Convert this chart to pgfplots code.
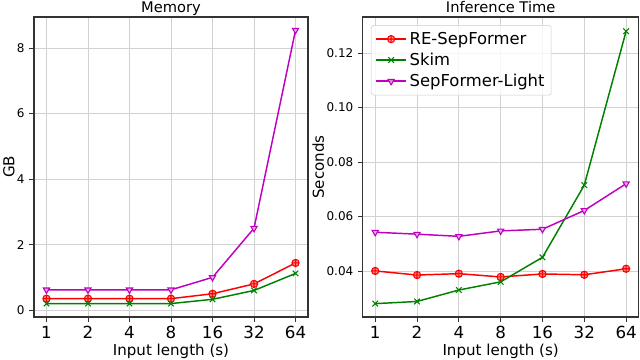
\documentclass[border=0pt]{standalone}
\usepackage{fontspec}
\setmainfont{DejaVu Sans}
\usepackage{pgfplots}
\pgfplotsset{compat=1.18}

\definecolor{mplred}{HTML}{FF0000}
\definecolor{mplgreen}{HTML}{008000}
\definecolor{mplmag}{HTML}{BF00BF}

\pgfplotsset{
  common/.style={
    scale only axis, height=225pt,
    xmin=-0.3, xmax=6.3,
    xtick={0,1,2,3,4,5,6},
    xticklabels={1,2,4,8,16,32,64},
    xticklabel style={font=\fontsize{12.5}{12.5}\selectfont},
    yticklabel style={font=\fontsize{9}{9}\selectfont},
    /pgf/number format/assume math mode=true,
    tick align=outside, tick pos=left,
    major tick length=3.5pt,
    tick style={line width=0.6pt, black!80},
    axis line style={line width=0.8pt, black!80},
    grid=major, major grid style={line width=0.6pt, gray!35},
    xlabel={Input length (s)},
    label style={font=\fontsize{11.3}{12}\selectfont},
    xlabel style={yshift=3pt},
    every axis title/.style={font=\fontsize{11}{11}\selectfont, at={(0.5,1)}, anchor=base, yshift=3pt},
    every axis plot/.append style={line width=1.1pt, mark size=2.7pt},
  },
  re/.style={color=mplred, mark=oplus*, mark options={fill=red!45, line width=0.8pt}},
  sk/.style={color=mplgreen, mark=x, mark options={line width=0.8pt, scale=1.1}},
  li/.style={color=mplmag, mark=triangle*, mark options={rotate=180, fill=mplmag!35, line width=0.8pt}},
}

\begin{document}
\begin{tikzpicture}
\path[use as bounding box] (0,0) rectangle (480pt,270pt);

\begin{axis}[common,
  at={(25.5pt,32.25pt)}, anchor=south west, width=205.5pt,
  ymin=-0.21, ymax=8.95, ytick={0,2,4,6,8},
  ylabel={GB}, ylabel style={yshift=-5pt},
  title={Memory},
]
\addplot[re] coordinates {(0,0.35)(1,0.35)(2,0.35)(3,0.35)(4,0.5)(5,0.8)(6,1.44)};
\addplot[sk] coordinates {(0,0.2)(1,0.2)(2,0.2)(3,0.2)(4,0.33)(5,0.6)(6,1.12)};
\addplot[li] coordinates {(0,0.62)(1,0.62)(2,0.62)(3,0.62)(4,1.0)(5,2.5)(6,8.55)};
\end{axis}

\begin{axis}[common,
  at={(272pt,32.25pt)}, anchor=south west, width=207pt,
  ymin=0.0231, ymax=0.1332, ytick={0.04,0.06,0.08,0.10,0.12},
  yticklabel style={/pgf/number format/.cd, fixed, fixed zerofill, precision=2},
  ylabel={Seconds}, ylabel style={yshift=-5pt},
  title={Inference Time},
  legend style={at={(0.03,0.973)}, anchor=north west, draw=gray!40, rounded corners=2pt,
    fill=white, fill opacity=0.8, text opacity=1,
    font=\fontsize{12.3}{14}\selectfont, inner sep=3pt, row sep=1pt},
  legend cell align=left,
  legend image code/.code={\draw[mark repeat=2, mark phase=2]
    plot coordinates {(0cm,0cm) (0.4cm,0cm) (0.8cm,0cm)};},
]
\addplot[re] coordinates {(0,0.0400)(1,0.0385)(2,0.0390)(3,0.0378)(4,0.0389)(5,0.0386)(6,0.0408)};
\addlegendentry{RE-SepFormer}
\addplot[sk] coordinates {(0,0.0280)(1,0.0288)(2,0.0330)(3,0.0360)(4,0.0450)(5,0.0715)(6,0.1280)};
\addlegendentry{Skim}
\addplot[li] coordinates {(0,0.0542)(1,0.0535)(2,0.0527)(3,0.0547)(4,0.0553)(5,0.0622)(6,0.0720)};
\addlegendentry{SepFormer-Light}
\end{axis}
\end{tikzpicture}
\end{document}
